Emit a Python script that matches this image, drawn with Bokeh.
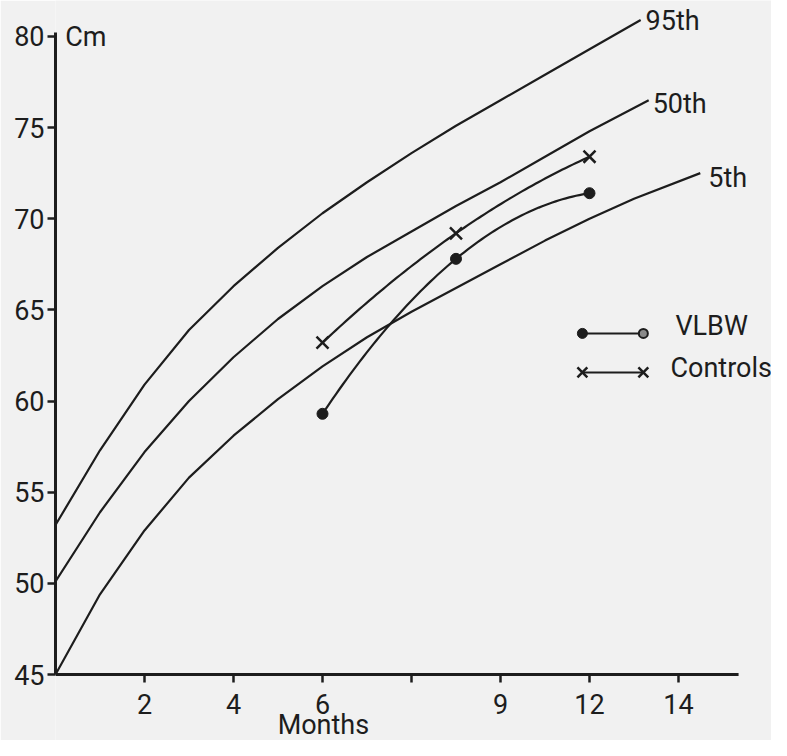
import numpy as np
from bokeh.plotting import figure
from bokeh.models import FixedTicker, Label
from bokeh.core.properties import value
from bokeh.embed import file_html
from bokeh.resources import INLINE

# ---------------- data ----------------
# percentile reference curves (months, cm)
P95_MONTHS = [0, 1, 2, 3, 4, 5, 6, 7, 8, 9, 10, 11, 12, 13.15]
P95_CM = [53.2, 57.3, 60.9, 63.9, 66.3, 68.4, 70.3, 72.0, 73.6, 75.1, 76.5, 77.9, 79.3, 80.9]

P50_MONTHS = [0, 1, 2, 3, 4, 5, 6, 7, 8, 9, 10, 11, 12, 13.33]
P50_CM = [50.1, 53.9, 57.2, 60.0, 62.4, 64.5, 66.3, 67.9, 69.3, 70.7, 72.0, 73.4, 74.8, 76.5]

P5_MONTHS = [0, 1, 2, 3, 4, 5, 6, 7, 8, 9, 10, 11, 12, 13, 14.49]
P5_CM = [45.0, 49.4, 52.9, 55.8, 58.1, 60.1, 61.9, 63.5, 64.9, 66.2, 67.5, 68.8, 70.0, 71.1, 72.5]

# study groups
VLBW_MONTHS = [6, 9, 12]
VLBW_CM = [59.3, 67.8, 71.4]
CTRL_MONTHS = [6, 9, 12]
CTRL_CM = [63.2, 69.2, 73.4]

# axis ticks
X_TICKS = [2, 4, 6, 8, 10, 12, 14]
X_TICK_LABELS = ["2", "4", "6", "", "9", "12", "14"]
Y_TICKS = [45, 50, 55, 60, 65, 70, 75, 80]
X_MIN, X_AXIS_END = 0, 15.35
Y_MIN, Y_AXIS_END = 45, 80.2

# legend sample positions (months) and rows (cm)
LEG_X = [11.84, 13.21]
LEG_VLBW_Y = 63.71
LEG_CTRL_Y = 61.57

INK = "#1d1d1d"
PAPER = "#f1f1f1"
FONT = "Roboto"
FSIZE = "27px"

W, H = 771, 740
p = figure(width=W, height=H, output_backend="svg", toolbar_location=None,
           x_range=(0, 16.09), y_range=(41.38, 81.97), x_axis_location=None,
           min_border_left=55, min_border_right=0, min_border_top=0,
           min_border_bottom=0)
p.background_fill_color = PAPER
p.border_fill_color = PAPER
p.outline_line_color = None
p.grid.visible = False

ax = p.yaxis
ax.axis_line_width = 3
ax.axis_line_color = INK
ax.major_tick_line_color = INK
ax.major_tick_line_width = 2.5
ax.major_tick_out = 8
ax.major_tick_in = 0
ax.minor_tick_line_color = None
ax.major_label_text_font = FONT
ax.major_label_text_font_size = FSIZE
ax.major_label_text_color = INK
ax.ticker = FixedTicker(ticks=Y_TICKS)
ax.bounds = (Y_MIN, Y_AXIS_END)
ax.major_label_standoff = 3

# x axis drawn inside the frame (so the "Months" caption can sit below it)
p.segment(x0=[X_MIN], y0=[Y_MIN], x1=[X_AXIS_END], y1=[Y_MIN], line_width=3, line_color=INK)
p.ray(x=X_TICKS, y=[Y_MIN] * len(X_TICKS), length=8, length_units="screen",
      angle=-np.pi / 2, line_width=2.5, line_color=INK)
txt = dict(text_font=value(FONT), text_font_size=value(FSIZE), text_color=INK,
           text_align="center", text_baseline="alphabetic")
p.text(x=X_TICKS, y=[Y_MIN] * len(X_TICKS), text=X_TICK_LABELS, y_offset=29, **txt)
p.text(x=[6.02], y=[Y_MIN], text=["Months"], y_offset=50, **txt)

# percentile curves
for xs, ys in ((P95_MONTHS, P95_CM), (P50_MONTHS, P50_CM), (P5_MONTHS, P5_CM)):
    p.line(xs, ys, line_width=2.2, line_color=INK, line_join="round")


def smooth(xs, ys, n=80):
    coef = np.polyfit(xs, ys, 2)
    xx = np.linspace(xs[0], xs[-1], n)
    return xx, np.polyval(coef, xx)


vx, vy = smooth(VLBW_MONTHS, VLBW_CM)
p.line(vx, vy, line_width=2.2, line_color=INK)
cx, cy = smooth(CTRL_MONTHS, CTRL_CM)
p.line(cx, cy, line_width=2.2, line_color=INK)

p.scatter(VLBW_MONTHS, VLBW_CM, marker="circle", size=11, fill_color=INK, line_color=INK)
p.scatter(CTRL_MONTHS, CTRL_CM, marker="x", size=17, line_width=2.5, line_color=INK)

# legend samples
p.line(LEG_X, [LEG_VLBW_Y] * 2, line_width=2, line_color=INK)
p.scatter([LEG_X[0]], [LEG_VLBW_Y], marker="circle", size=10, fill_color=INK, line_color=INK)
p.scatter([LEG_X[1]], [LEG_VLBW_Y], marker="circle", size=9, fill_color="#8a8a8a",
          line_color=INK, line_width=2)
p.line(LEG_X, [LEG_CTRL_Y] * 2, line_width=2, line_color=INK)
p.scatter(LEG_X, [LEG_CTRL_Y] * 2, marker="x", size=14, line_width=2.5, line_color=INK)


def lab(text, x, y, align="left"):
    p.add_layout(Label(x=x, y=y, text=text, text_font=FONT, text_font_size=FSIZE,
                       text_color=INK, text_align=align, text_baseline="alphabetic"))


lab("95th", P95_MONTHS[-1] + 0.11, P95_CM[-1] - 0.08)
lab("50th", P50_MONTHS[-1] + 0.09, P50_CM[-1] - 0.18)
lab("5th", P5_MONTHS[-1] + 0.18, P5_CM[-1] - 0.29)
lab("VLBW", 13.93, 64.09)
lab("Controls", 13.82, 61.79)
lab("Cm", 0.22, 79.95)

open("out.html", "w").write(file_html(p, INLINE))
